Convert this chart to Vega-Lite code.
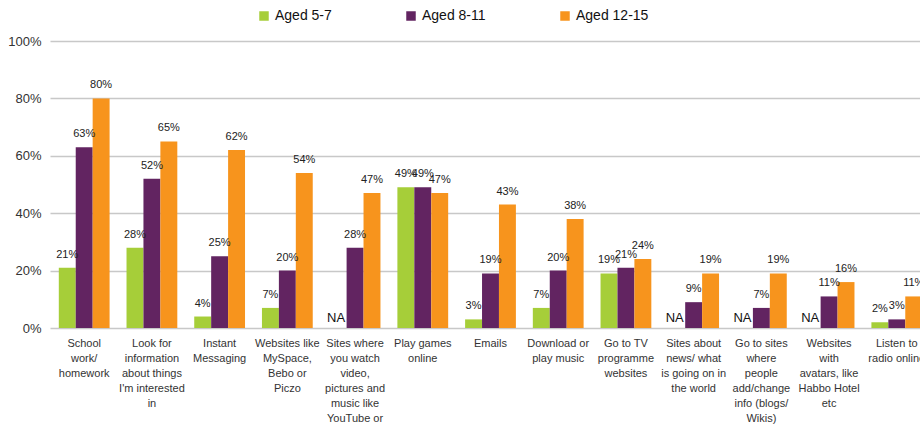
{
  "$schema": "https://vega.github.io/schema/vega-lite/v6.json",
  "width": 870,
  "height": 287,
  "autosize": "none",
  "padding": {"left": 50, "top": 41, "right": 0, "bottom": 98},
  "config": {
    "view": {"stroke": null},
    "font": "Liberation Sans",
    "axis": {"labelColor": "#333333", "titleColor": "#333333"}
  },
  "data": {
    "values": [
      {"cat": "School|work/|homework", "age": "Aged 5-7", "value": 21, "label": "21%"},
      {"cat": "School|work/|homework", "age": "Aged 8-11", "value": 63, "label": "63%"},
      {"cat": "School|work/|homework", "age": "Aged 12-15", "value": 80, "label": "80%"},
      {"cat": "Look for|information|about things|I'm interested|in", "age": "Aged 5-7", "value": 28, "label": "28%"},
      {"cat": "Look for|information|about things|I'm interested|in", "age": "Aged 8-11", "value": 52, "label": "52%"},
      {"cat": "Look for|information|about things|I'm interested|in", "age": "Aged 12-15", "value": 65, "label": "65%"},
      {"cat": "Instant|Messaging", "age": "Aged 5-7", "value": 4, "label": "4%"},
      {"cat": "Instant|Messaging", "age": "Aged 8-11", "value": 25, "label": "25%"},
      {"cat": "Instant|Messaging", "age": "Aged 12-15", "value": 62, "label": "62%"},
      {"cat": "Websites like|MySpace,|Bebo or|Piczo", "age": "Aged 5-7", "value": 7, "label": "7%"},
      {"cat": "Websites like|MySpace,|Bebo or|Piczo", "age": "Aged 8-11", "value": 20, "label": "20%"},
      {"cat": "Websites like|MySpace,|Bebo or|Piczo", "age": "Aged 12-15", "value": 54, "label": "54%"},
      {"cat": "Sites where|you watch|video,|pictures and|music like|YouTube or", "age": "Aged 5-7", "value": null, "label": "NA"},
      {"cat": "Sites where|you watch|video,|pictures and|music like|YouTube or", "age": "Aged 8-11", "value": 28, "label": "28%"},
      {"cat": "Sites where|you watch|video,|pictures and|music like|YouTube or", "age": "Aged 12-15", "value": 47, "label": "47%"},
      {"cat": "Play games|online", "age": "Aged 5-7", "value": 49, "label": "49%"},
      {"cat": "Play games|online", "age": "Aged 8-11", "value": 49, "label": "49%"},
      {"cat": "Play games|online", "age": "Aged 12-15", "value": 47, "label": "47%"},
      {"cat": "Emails", "age": "Aged 5-7", "value": 3, "label": "3%"},
      {"cat": "Emails", "age": "Aged 8-11", "value": 19, "label": "19%"},
      {"cat": "Emails", "age": "Aged 12-15", "value": 43, "label": "43%"},
      {"cat": "Download or|play music", "age": "Aged 5-7", "value": 7, "label": "7%"},
      {"cat": "Download or|play music", "age": "Aged 8-11", "value": 20, "label": "20%"},
      {"cat": "Download or|play music", "age": "Aged 12-15", "value": 38, "label": "38%"},
      {"cat": "Go to TV|programme|websites", "age": "Aged 5-7", "value": 19, "label": "19%"},
      {"cat": "Go to TV|programme|websites", "age": "Aged 8-11", "value": 21, "label": "21%"},
      {"cat": "Go to TV|programme|websites", "age": "Aged 12-15", "value": 24, "label": "24%"},
      {"cat": "Sites about|news/ what|is going on in|the world", "age": "Aged 5-7", "value": null, "label": "NA"},
      {"cat": "Sites about|news/ what|is going on in|the world", "age": "Aged 8-11", "value": 9, "label": "9%"},
      {"cat": "Sites about|news/ what|is going on in|the world", "age": "Aged 12-15", "value": 19, "label": "19%"},
      {"cat": "Go to sites|where|people|add/change|info (blogs/|Wikis)", "age": "Aged 5-7", "value": null, "label": "NA"},
      {"cat": "Go to sites|where|people|add/change|info (blogs/|Wikis)", "age": "Aged 8-11", "value": 7, "label": "7%"},
      {"cat": "Go to sites|where|people|add/change|info (blogs/|Wikis)", "age": "Aged 12-15", "value": 19, "label": "19%"},
      {"cat": "Websites|with|avatars, like|Habbo Hotel|etc", "age": "Aged 5-7", "value": null, "label": "NA"},
      {"cat": "Websites|with|avatars, like|Habbo Hotel|etc", "age": "Aged 8-11", "value": 11, "label": "11%"},
      {"cat": "Websites|with|avatars, like|Habbo Hotel|etc", "age": "Aged 12-15", "value": 16, "label": "16%"},
      {"cat": "Listen to|radio online", "age": "Aged 5-7", "value": 2, "label": "2%"},
      {"cat": "Listen to|radio online", "age": "Aged 8-11", "value": 3, "label": "3%"},
      {"cat": "Listen to|radio online", "age": "Aged 12-15", "value": 11, "label": "11%"}
    ]
  },
  "encoding": {
    "x": {
      "field": "cat",
      "type": "nominal",
      "sort": null,
      "scale": {"range": [0, 881], "paddingInner": 0.25, "paddingOuter": 0.13},
      "axis": {
        "title": null,
        "domain": false,
        "ticks": false,
        "grid": false,
        "labelAngle": 0,
        "labelAlign": "center",
        "labelBaseline": "top",
        "labelFontSize": 11,
        "labelLineHeight": 15,
        "labelPadding": 9,
        "labelLimit": 0,
        "labelOverlap": false,
        "labelBound": false,
        "labelExpr": "split(datum.label, '|')"
      }
    },
    "xOffset": {
      "field": "age",
      "type": "nominal",
      "sort": ["Aged 5-7", "Aged 8-11", "Aged 12-15"],
      "scale": {"paddingInner": 0, "paddingOuter": 0}
    }
  },
  "layer": [
    {
      "mark": {"type": "bar", "stroke": null},
      "encoding": {
        "y": {
          "field": "value",
          "type": "quantitative",
          "scale": {"domain": [0, 100], "nice": false},
          "axis": {
            "title": null,
            "domain": false,
            "ticks": false,
            "values": [0, 20, 40, 60, 80, 100],
            "labelExpr": "datum.value + '%'",
            "labelFontSize": 13,
            "labelPadding": 9,
            "gridColor": "#c8c8c8",
            "gridWidth": 1.3
          }
        },
        "color": {
          "field": "age",
          "type": "nominal",
          "scale": {
            "domain": ["Aged 5-7", "Aged 8-11", "Aged 12-15"],
            "range": ["#a6ce39", "#622461", "#f7941d"]
          },
          "legend": {
            "title": null,
            "orient": "none",
            "direction": "horizontal",
            "legendX": 207,
            "legendY": -32,
            "symbolType": "square",
            "symbolSize": 90,
            "symbolStrokeWidth": 0,
            "labelFontSize": 14,
            "labelColor": "#111111",
            "labelOffset": 4,
            "columnPadding": 72,
            "padding": 0
          }
        }
      }
    },
    {
      "transform": [{"filter": "datum.value != null"}],
      "mark": {"type": "text", "baseline": "alphabetic", "dy": -10, "fontSize": 11, "color": "#222222"},
      "encoding": {
        "y": {"field": "value", "type": "quantitative"},
        "text": {"field": "label"}
      }
    },
    {
      "transform": [{"filter": "datum.value == null"}],
      "mark": {"type": "text", "baseline": "alphabetic", "dy": -6, "dx": -2, "fontSize": 13, "color": "#111111"},
      "encoding": {
        "y": {"datum": 0},
        "text": {"field": "label"}
      }
    }
  ]
}
